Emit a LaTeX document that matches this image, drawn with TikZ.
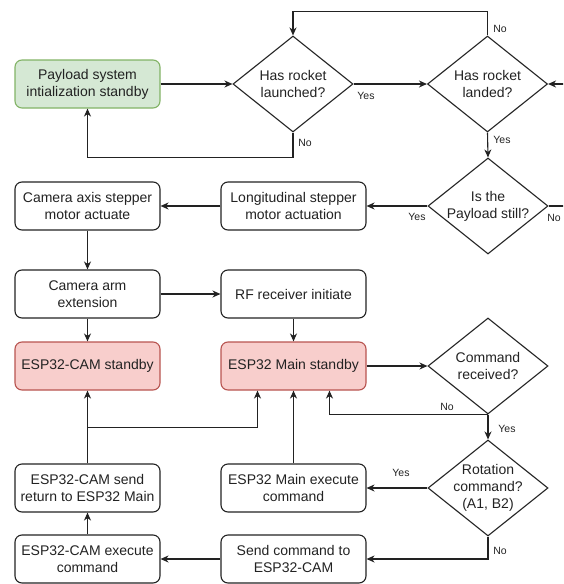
\documentclass[tikz,border=0pt]{standalone}
\usepackage{fontspec}
\setmainfont{Liberation Sans}
\usetikzlibrary{shapes.geometric,arrows.meta}
\definecolor{linec}{HTML}{222222}
\definecolor{greenf}{HTML}{D5E8D4}
\definecolor{greend}{HTML}{82B366}
\definecolor{redf}{HTML}{F8CECC}
\definecolor{redd}{HTML}{B85450}

\begin{document}
\begin{tikzpicture}[x=1pt,y=-1pt,
  every node/.style={font=\fontsize{14}{16.8}\selectfont, text=linec},
  box/.style={draw=linec, rounded corners=7pt, line width=1.1pt,
    minimum width=145pt, minimum height=48pt, align=center, inner sep=2pt},
  startbox/.style={box, fill=greenf, draw=greend},
  waitbox/.style={box, fill=redf, draw=redd},
  decision/.style={draw=linec, diamond, line width=1.1pt,
    minimum width=120pt, minimum height=96pt, inner sep=0pt},
  dtext/.style={align=center, inner sep=0pt},
  flow/.style={draw=linec, line width=1.1pt,
    -{Stealth[length=8pt,width=7pt,inset=2.5pt]}},
  plain/.style={draw=linec, line width=1.1pt},
  lbl/.style={font=\fontsize{10.5}{12}\selectfont, inner sep=0pt}
]
\useasboundingbox (0,0) rectangle (563,584);
\clip (0,0) rectangle (563,584);

% process boxes
\node[startbox] (init)   at (87.5,84)   {Payload system\\intialization standby};
\node[box]      (lon)    at (293.5,206) {Longitudinal stepper\\motor actuation};
\node[box]      (cax)    at (87.5,206)  {Camera axis stepper\\motor actuate};
\node[box]      (carm)   at (87.5,294)  {Camera arm\\extension};
\node[box]      (rf)     at (293.5,294) {RF receiver initiate};
\node[waitbox]  (camsb)  at (87.5,366)  {ESP32-CAM standby};
\node[waitbox]  (mainsb) at (293.5,366) {ESP32 Main standby};
\node[box]      (mainex) at (293.5,488) {ESP32 Main execute\\command};
\node[box]      (camret) at (87.5,488)  {ESP32-CAM send\\return to ESP32 Main};
\node[box]      (send)   at (293.5,559) {Send command to\\ESP32-CAM};
\node[box]      (camex)  at (87.5,559)  {ESP32-CAM execute\\command};

% decisions
\node[decision, label={[dtext]center:{Has rocket\\launched?}}] (launch) at (293,84) {};
\node[decision, label={[dtext]center:{Has rocket\\landed?}}]   (landed) at (487.5,84) {};
\node[decision, label={[dtext]center:{Is the\\Payload still?}}] (still) at (488,206) {};
\node[decision, label={[dtext]center:{Command\\received?}}]    (cmd)    at (488,366) {};
\node[decision, label={[dtext]center:{Rotation\\command?\\(A1, B2)}}] (rot) at (488,488) {};

% loose ends running off the right edge
\coordinate (inR)  at (575,84);
\coordinate (outR) at (575,206);

% connectors
\draw[flow] (init.east) -- (launch.west);
\draw[flow] (launch.east) -- (landed.west);
\draw[flow] (launch.south) -- ++(0,25) -| (init.south);
\draw[flow] (landed.north) -- ++(0,-24) -| (launch.north);
\draw[flow] (inR) -- (landed.east);
\draw[flow] (landed.south) -- (still.north);
\draw[flow] (still.west) -- (lon.east);
\draw[plain] (still.east) -- (outR);
\draw[flow] (lon.west) -- (cax.east);
\draw[flow] (cax.south) -- (carm.north);
\draw[flow] (carm.east) -- (rf.west);
\draw[flow] (carm.south) -- (camsb.north);
\draw[flow] (rf.south) -- (mainsb.north);
\draw[flow] (mainsb.east) -- (cmd.west);
\draw[flow] (cmd.south) -| ([xshift=36pt]mainsb.south);
\draw[flow] (cmd.south) -- (rot.north);
\draw[flow] (rot.west) -- (mainex.east);
\draw[flow] (rot.south) |- (send.east);
\draw[flow] (mainex.north) -- (mainsb.south);
\draw[flow] (send.west) -- (camex.east);
\draw[flow] (camex.north) -- (camret.south);
\draw[flow] (camret.north) -- (camsb.south);
\draw[flow] (camret.north) -- ++(0,-36) -| ([xshift=-36pt]mainsb.south);

% branch labels
\node[lbl] (l1)  at (366,96)  {Yes};
\node[lbl] (l2)  at (305,143) {No};
\node[lbl] (l3)  at (500,29)  {No};
\node[lbl] (l4)  at (502,140) {Yes};
\node[lbl] (l5)  at (417,217) {Yes};
\node[lbl] (l6)  at (554,218) {No};
\node[lbl] (l7)  at (447,407) {No};
\node[lbl] (l8)  at (507,429) {Yes};
\node[lbl] (l9)  at (401,473) {Yes};
\node[lbl] (l10) at (500,551) {No};
\end{tikzpicture}
\end{document}
